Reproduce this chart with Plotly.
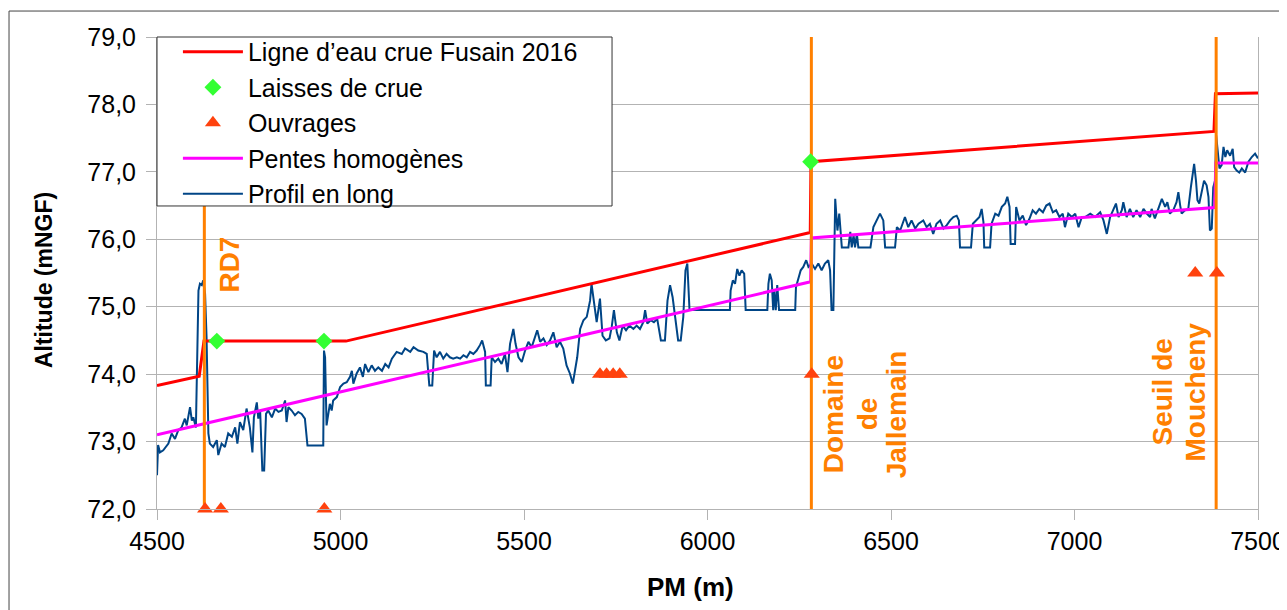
import plotly.graph_objects as go

# ---------------- data ----------------
profil_pm = [4500, 4503, 4508, 4517, 4531, 4540, 4549, 4558, 4567, 4576, 4581, 4590, 4595, 4599, 4606,
             4613, 4617, 4622, 4626, 4631, 4635, 4640, 4644, 4653, 4663, 4667, 4676, 4685, 4694, 4704,
             4713, 4719, 4726, 4735, 4744, 4753, 4760, 4764, 4772, 4776, 4781, 4787, 4792, 4797, 4803,
             4813, 4822, 4831, 4840, 4849, 4853, 4858, 4867, 4876, 4885, 4894, 4903, 4910, 4953, 4955,
             4958, 4962, 4971, 4976, 4980, 4990, 4999, 5008, 5017, 5026, 5031, 5035, 5044, 5053, 5061,
             5067, 5076, 5085, 5094, 5103, 5113, 5122, 5131, 5140, 5153, 5167, 5176, 5190, 5199, 5212,
             5226, 5235, 5242, 5250, 5255, 5262, 5271, 5280, 5289, 5298, 5307, 5317, 5326, 5335, 5344,
             5353, 5362, 5371, 5380, 5386, 5394, 5396, 5409, 5412, 5421, 5430, 5439, 5448, 5455, 5462,
             5471, 5477, 5485, 5494, 5503, 5512, 5521, 5530, 5536, 5544, 5553, 5562, 5571, 5580, 5589,
             5598, 5607, 5616, 5625, 5633, 5639, 5645, 5653, 5662, 5671, 5680, 5684, 5689, 5698, 5707,
             5714, 5723, 5733, 5739, 5745, 5753, 5760, 5769, 5778, 5787, 5798, 5807, 5816, 5825, 5830,
             5836, 5845, 5854, 5863, 5873, 5884, 5891, 5898, 5905, 5914, 5920, 5927, 5934, 5940, 5945,
             5951, 6061, 6063, 6069, 6075, 6081, 6087, 6093, 6100, 6104, 6163, 6166, 6170, 6175, 6179,
             6182, 6186, 6190, 6195, 6239, 6241, 6248, 6254, 6261, 6269, 6275, 6284, 6293, 6302, 6311,
             6320, 6329, 6334, 6338, 6343, 6348, 6354, 6359, 6366, 6384, 6389, 6393, 6398, 6402, 6407,
             6411, 6444, 6452, 6461, 6470, 6479, 6484, 6511, 6516, 6525, 6538, 6547, 6556, 6566, 6575,
             6588, 6597, 6606, 6615, 6624, 6634, 6643, 6652, 6661, 6670, 6679, 6685, 6688, 6718, 6723,
             6732, 6741, 6747, 6752, 6754, 6770, 6774, 6784, 6793, 6802, 6811, 6817, 6823, 6826, 6838,
             6841, 6850, 6859, 6868, 6877, 6886, 6895, 6904, 6914, 6923, 6932, 6941, 6950, 6959, 6968,
             6974, 6983, 6993, 7002, 7011, 7020, 7029, 7043, 7056, 7070, 7079, 7088, 7097, 7106, 7113,
             7120, 7129, 7133, 7142, 7151, 7160, 7169, 7179, 7188, 7197, 7206, 7210, 7219, 7228, 7238,
             7247, 7253, 7260, 7269, 7278, 7283, 7288, 7292, 7301, 7310, 7317, 7322, 7326, 7331, 7335,
             7340, 7347, 7353, 7360, 7365, 7369, 7374, 7378, 7383, 7386, 7390, 7395, 7401, 7406, 7411,
             7416, 7424, 7431, 7435, 7442, 7449, 7456, 7465, 7474, 7483, 7492, 7500]
profil_alt = [72.50, 72.95, 72.84, 72.87, 72.97, 73.12, 73.04, 73.17, 73.21, 73.34, 73.24, 73.51, 73.31, 73.36, 73.21,
              75.24, 75.34, 75.32, 75.39, 75.19, 74.55, 73.12, 72.97, 72.92, 73.02, 72.80, 72.97, 72.92, 73.12, 73.07,
              73.21, 72.97, 73.29, 73.17, 73.49, 73.21, 72.84, 73.36, 73.58, 73.34, 73.46, 72.57, 72.57, 73.41, 73.46,
              73.36, 73.49, 73.44, 73.46, 73.61, 73.29, 73.51, 73.46, 73.39, 73.44, 73.41, 73.34, 72.94, 72.94, 74.35,
              74.25, 73.24, 73.56, 73.46, 73.61, 73.66, 73.81, 73.86, 73.88, 73.96, 74.05, 73.86, 74.01, 74.10, 73.96,
              74.15, 74.03, 74.13, 74.05, 74.10, 74.05, 74.15, 74.10, 74.23, 74.33, 74.30, 74.38, 74.33, 74.40, 74.35,
              74.33, 74.30, 73.83, 73.83, 74.35, 74.25, 74.33, 74.23, 74.30, 74.25, 74.23, 74.25, 74.23, 74.28, 74.25,
              74.33, 74.30, 74.35, 74.43, 74.50, 74.33, 73.83, 73.83, 74.25, 74.18, 74.23, 74.15, 74.30, 74.03, 74.45,
              74.67, 74.45, 74.25, 74.18, 74.35, 74.48, 74.40, 74.55, 74.65, 74.48, 74.53, 74.43, 74.50, 74.62, 74.40,
              74.48, 74.38, 74.13, 74.01, 73.86, 74.03, 74.25, 74.67, 74.80, 74.85, 75.09, 75.34, 75.12, 74.77, 75.12,
              74.57, 74.50, 74.53, 74.70, 74.95, 74.62, 74.50, 74.72, 74.65, 74.72, 74.67, 74.72, 74.67, 74.77, 74.95,
              74.75, 74.80, 74.77, 74.82, 74.50, 74.50, 75.09, 75.32, 75.14, 74.80, 74.50, 74.50, 74.85, 75.54, 75.64,
              74.95, 74.95, 75.24, 75.39, 75.34, 75.56, 75.46, 75.54, 75.49, 74.95, 74.95, 75.34, 75.49, 75.39, 74.95,
              75.24, 74.95, 75.32, 74.95, 74.95, 75.29, 75.41, 75.54, 75.59, 75.69, 75.59, 75.64, 75.56, 75.64, 75.54,
              75.64, 75.69, 75.54, 74.95, 74.95, 76.60, 76.13, 76.38, 75.88, 75.88, 76.11, 75.88, 76.06, 75.88, 76.08,
              75.88, 75.88, 76.18, 76.28, 76.38, 76.28, 75.88, 75.88, 76.18, 76.13, 76.33, 76.18, 76.28, 76.16, 76.23,
              76.28, 76.18, 76.23, 76.08, 76.23, 76.28, 76.16, 76.21, 76.28, 76.33, 76.35, 76.28, 75.88, 75.88, 76.23,
              76.28, 76.33, 76.45, 76.25, 75.88, 75.88, 76.23, 76.38, 76.35, 76.48, 76.53, 76.63, 76.48, 75.93, 75.93,
              76.48, 76.28, 76.35, 76.21, 76.30, 76.43, 76.38, 76.45, 76.40, 76.50, 76.53, 76.40, 76.43, 76.33, 76.38,
              76.18, 76.38, 76.33, 76.38, 76.18, 76.33, 76.33, 76.38, 76.33, 76.40, 76.28, 76.08, 76.33, 76.43, 76.53,
              76.33, 76.43, 76.55, 76.33, 76.45, 76.33, 76.43, 76.33, 76.45, 76.38, 76.33, 76.45, 76.31, 76.45, 76.60,
              76.48, 76.55, 76.38, 76.43, 76.55, 76.70, 76.50, 76.38, 76.43, 76.45, 76.77, 77.02, 77.12, 76.87, 76.58,
              76.53, 76.73, 76.87, 76.80, 76.63, 76.13, 76.16, 76.77, 76.87, 77.54, 77.27, 77.05, 77.10, 77.37, 77.22,
              77.32, 77.24, 77.34, 77.07, 77.02, 76.99, 77.05, 76.99, 77.15, 77.22, 77.27, 77.20]

ligne_pm = [4500, 4615, 4628, 5015, 6280, 6282, 7380, 7384, 7500]
ligne_alt = [73.83, 73.97, 74.49, 74.49, 76.10, 77.15, 77.60, 78.16, 78.17]

pentes_pm = [4500, 6281, 6283, 7382, 7385, 7500]
pentes_alt = [73.10, 75.37, 76.02, 76.47, 77.13, 77.13]

laisses_pm = [4663, 4955, 6281]
laisses_alt = [74.49, 74.49, 77.15]

ouvrages_pm = [4631, 4674, 4956, 5707, 5725, 5743, 5761, 6284, 7329, 7388]
ouvrages_alt = [72.0, 72.0, 72.0, 74.0, 74.0, 74.0, 74.0, 74.0, 75.5, 75.5]

reperes_pm = [4629, 6283, 7386]
reperes_lignes = [["RD7"], ["Domaine", "de", "Jallemain"], ["Seuil de", "Moucheny"]]
reperes_alt = [75.63, 73.41, 73.73]

x_range = [4500, 7500]
y_range = [72, 79]

# label placement (pixel offsets of each text column from its vertical line)
label_shifts = [[25], [23, 57, 86], [-54, -21]]

FONT = "Liberation Sans, Arial, sans-serif"
ORANGE = "#ff8000"

fig = go.Figure()

fig.add_trace(go.Scatter(x=profil_pm, y=profil_alt, mode="lines", name="Profil en long",
                         line=dict(color="#004586", width=2), legendrank=5))
fig.add_trace(go.Scatter(x=pentes_pm, y=pentes_alt, mode="lines", name="Pentes homogènes",
                         line=dict(color="#ff00ff", width=3), legendrank=4))
fig.add_trace(go.Scatter(x=ligne_pm, y=ligne_alt, mode="lines", name="Ligne d’eau crue Fusain 2016",
                         line=dict(color="#ff0000", width=3), legendrank=1))

# vertical reference lines (orange)
vx, vy = [], []
for p in reperes_pm:
    vx += [p, p, None]
    vy += [y_range[0], y_range[1], None]
fig.add_trace(go.Scatter(x=vx, y=vy, mode="lines", line=dict(color=ORANGE, width=3),
                         showlegend=False, hoverinfo="skip"))

fig.add_trace(go.Scatter(x=laisses_pm, y=laisses_alt, mode="markers", name="Laisses de crue",
                         marker=dict(symbol="diamond", size=13, color="#33ff33"), legendrank=2))
fig.add_trace(go.Scatter(x=ouvrages_pm, y=ouvrages_alt, mode="markers", name="Ouvrages",
                         marker=dict(symbol="triangle-up", size=14, color="#ff420e"),
                         cliponaxis=False, legendrank=3))

for p, lignes, a, shs in zip(reperes_pm, reperes_lignes, reperes_alt, label_shifts):
    for t, s in zip(lignes, shs):
        fig.add_annotation(x=p, y=a, xref="x", yref="y", text=t, showarrow=False, textangle=-90,
                           xshift=s, font=dict(family=FONT, size=28, color=ORANGE, weight="bold"),
                           xanchor="center", yanchor="middle")

# axis titles
fig.add_annotation(x=-0.1026, y=0.485, xref="paper", yref="paper", text="<b>Altitude (mNGF)</b>",
                   showarrow=False, textangle=-90, font=dict(family=FONT, size=23, color="black"),
                   xanchor="center", yanchor="middle")
fig.add_annotation(x=0.485, y=-0.165, xref="paper", yref="paper", text="<b>PM (m)</b>",
                   showarrow=False, font=dict(family=FONT, size=26, color="black"),
                   xanchor="center", yanchor="middle")

# outer frame
fig.add_shape(type="rect", xref="paper", yref="paper", x0=-0.1344, y0=-0.3, x1=1.2, y1=1.055,
              line=dict(color="#444444", width=1), layer="above")
# legend box (opaque, covers the plot like the original)
fig.add_shape(type="rect", xref="paper", yref="paper", x0=0, y0=0.642, x1=0.4133, y1=1,
              line=dict(color="#333333", width=1), fillcolor="white", layer="above")

fig.update_layout(
    width=1279, height=602,
    margin=dict(l=149, r=29, t=29, b=101, autoexpand=False),
    paper_bgcolor="white", plot_bgcolor="white",
    separators=", ",
    font=dict(family=FONT, size=25, color="black"),
    showlegend=True,
    legend=dict(x=0.019, y=1.017, xanchor="left", yanchor="top", bgcolor="rgba(0,0,0,0)",
                borderwidth=0, itemwidth=60,
                font=dict(family=FONT, size=25, color="black"), tracegroupgap=0),
    xaxis=dict(range=x_range, dtick=500, tick0=4500, showgrid=False, showline=True,
               linecolor="#b3b3b3", linewidth=1, ticks="outside", ticklen=10, tickcolor="#b3b3b3",
               tickfont=dict(size=25), zeroline=False, mirror=False, automargin=False),
    yaxis=dict(range=y_range, dtick=1, tick0=72, tickformat=".1f", showgrid=True,
               gridcolor="#b3b3b3", gridwidth=1, showline=True, linecolor="#b3b3b3", linewidth=1,
               ticks="outside", ticklen=10, tickcolor="#b3b3b3", tickfont=dict(size=25),
               ticklabelstandoff=5, zeroline=False, mirror=True, automargin=False),
)

fig.write_html("out.html")
